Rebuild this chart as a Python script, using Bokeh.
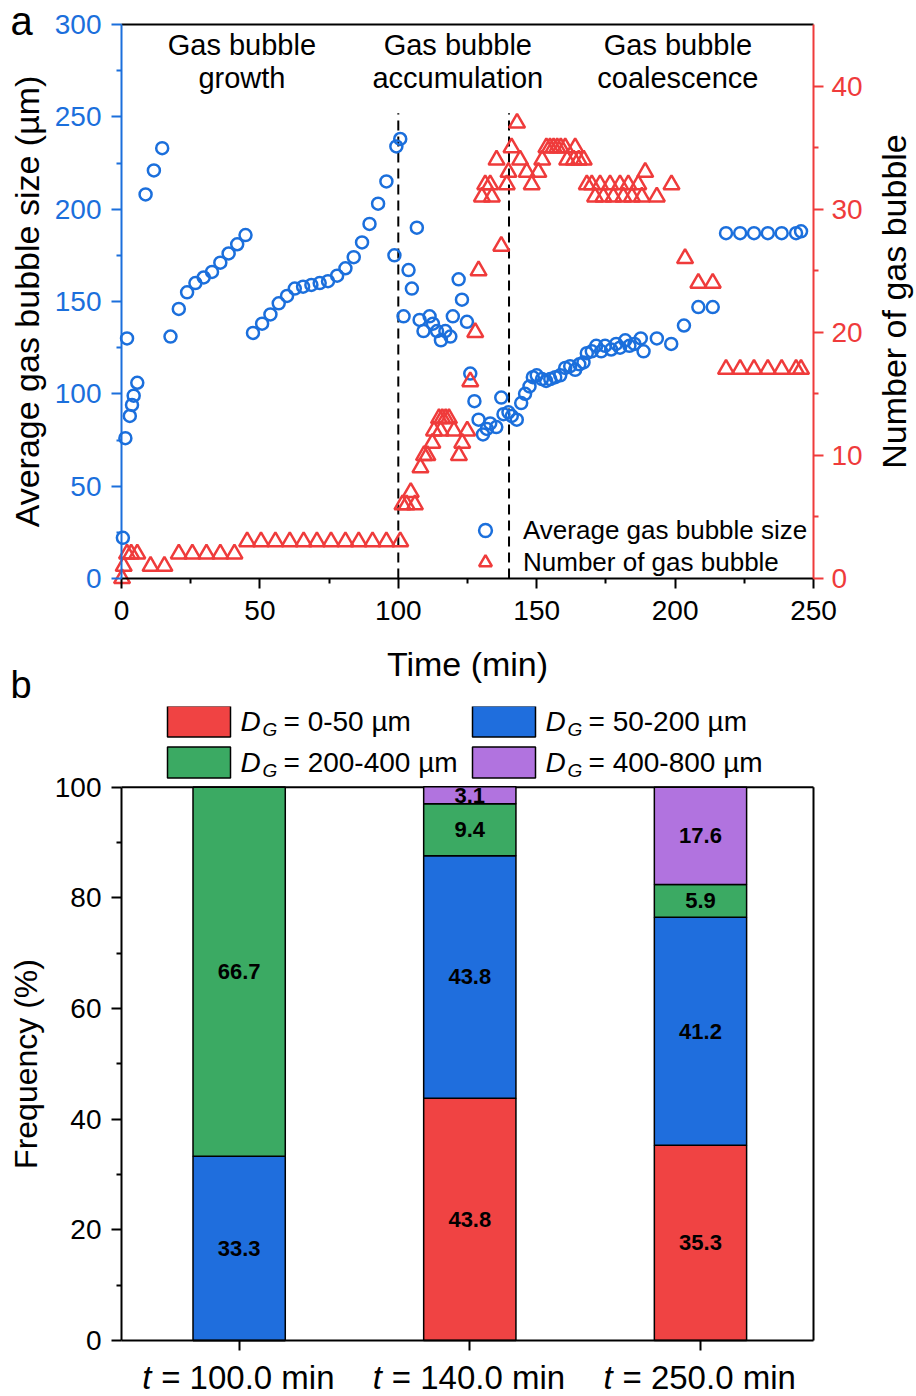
import math
import numpy as np
from bokeh.plotting import figure
from bokeh.models import (Range1d, LinearAxis, FixedTicker, Legend, LegendItem,
                          ColumnDataSource)
from bokeh.layouts import column
from bokeh.embed import file_html
from bokeh.resources import INLINE
from bokeh.core.properties import value

FONT = "Liberation Sans"
BLUE = "#1b6fdc"
RED = "#ef3b3b"

# ---------------- data: panel a ----------------
size_time = [0.5, 1.4, 2.0, 3.0, 3.8, 4.4, 5.7, 8.7, 11.7, 14.7,
             17.7, 20.7, 23.7, 26.7, 29.7, 32.7, 35.7, 38.7, 41.8, 44.8,
             47.5, 50.8, 53.8, 56.8, 59.8, 62.6, 65.6, 68.6, 71.6, 74.6,
             77.9, 80.9, 83.9, 86.9, 89.6, 92.7, 95.7, 98.6, 99.3, 100.7,
             101.9, 103.7, 104.9, 106.7, 107.7, 109.1, 111.3, 112.5, 114.0, 115.4,
             117.0, 118.8, 119.7, 121.8, 123.0, 124.8, 126.0, 127.5, 129.0, 130.6,
             132.0, 133.2, 135.4, 137.2, 138.0, 139.8, 141.0, 142.8, 144.4, 145.8,
             147.4, 148.6, 150.0, 151.9, 153.4, 154.9, 156.7, 158.5, 160.3, 162.1,
             163.9, 165.4, 166.9, 168.1, 169.9, 171.5, 173.3, 174.7, 176.9, 178.7,
             180.1, 182.0, 183.5, 185.3, 187.6, 188.6, 193.4, 198.6, 203.2, 208.4,
             213.6, 218.4, 223.5, 228.5, 233.5, 238.5, 243.7, 245.5]
size_um = [22, 76, 130, 88, 94, 99, 106, 208, 221, 233,
           131, 146, 155, 160, 163, 166, 171, 176, 181, 186,
           133, 138, 143, 149, 153, 157, 158, 159, 160, 161,
           164, 168, 174, 182, 192, 203, 215, 175, 234, 238,
           142, 167, 157, 190, 140, 134, 142, 138, 134, 129,
           134, 131, 142, 162, 151, 139, 111, 96, 86, 78,
           81, 84, 82, 98, 89, 90, 88, 86, 95, 100,
           104, 109, 110, 108, 107, 108, 109, 110, 114, 115,
           113, 116, 117, 122, 123, 126, 123, 126, 124, 127,
           125, 129, 126, 127, 130, 123, 130, 127, 137, 147,
           147, 187, 187, 187, 187, 187, 187, 188]

count_time = [0.2, 0.8, 2.0, 3.5, 5.7, 10.5, 15.5, 20.7, 25.6, 30.7, 35.7, 40.8,
              45.4, 50.4, 55.6, 60.8, 65.8, 70.6, 75.7, 80.9, 85.7, 90.7, 95.7, 100.7,
              101.5, 103.0, 104.5, 106.0,
              108.0, 109.3, 110.5, 112.3, 112.9, 114.7, 115.3, 115.9, 117.1, 118.3,
              120.1, 121.9, 123.1, 124.9,
              126.0, 127.8, 129.0, 130.2, 131.4, 133.2, 133.8, 135.5, 137.2, 139.2,
              139.8, 140.9, 142.9, 144.0, 146.4, 148.2, 150.6, 152.0, 153.5, 154.8,
              156.1, 157.4, 158.7, 160.3, 161.0, 163.4, 163.9, 165.2, 167.0, 168.1,
              169.9, 171.1, 172.9, 174.1, 176.5, 177.7, 180.1, 181.3, 183.1, 184.4,
              186.7, 188.0, 189.2, 193.4, 198.7, 203.6, 208.4, 213.6,
              218.4, 223.5, 228.5, 233.5, 238.5, 243.7, 245.5]
count_n = [0, 1, 2, 2, 2, 1, 1, 2, 2, 2, 2, 2,
           3, 3, 3, 3, 3, 3, 3, 3, 3, 3, 3, 3,
           6, 6, 7, 6,
           9, 10, 10, 11, 12, 13, 12, 13, 13, 13,
           12, 10, 11, 12,
           16, 20, 25, 31, 32, 32, 31, 34, 27, 32,
           33, 35, 37, 34, 33, 32, 33, 34, 35, 35,
           35, 35, 35, 35, 34, 34, 35, 34, 34, 32,
           32, 31, 32, 31, 32, 31, 32, 31, 32, 31,
           32, 31, 33, 31, 32, 26, 24, 24,
           17, 17, 17, 17, 17, 17, 17]

phase_bounds = [100, 140]
phase_line1 = ["Gas bubble", "Gas bubble", "Gas bubble"]
phase_line2 = ["growth", "accumulation", "coalescence"]
phase_center_t = [43.5, 121.5, 201.0]

# ---------------- data: panel b ----------------
times_b = ["100.0", "140.0", "250.0"]
freq_0_50 = [0.0, 43.8, 35.3]
freq_50_200 = [33.3, 43.8, 41.2]
freq_200_400 = [66.7, 9.4, 5.9]
freq_400_800 = [0.0, 3.1, 17.6]
range_labels = ["0-50", "50-200", "200-400", "400-800"]
bar_colors = ["#f04343", "#1f6edd", "#3baa63", "#b173df"]

W = 916
H1 = 706      # page rows 0 .. 706
H2 = 690      # page rows 706 .. 1396


def style_axis(ax, color, ticks, minor, label_size="34px"):
    ax.ticker = FixedTicker(ticks=ticks, minor_ticks=minor)
    ax.axis_line_color = color
    ax.axis_line_width = 2
    ax.major_tick_line_color = color
    ax.major_tick_line_width = 2
    ax.minor_tick_line_color = color
    ax.minor_tick_line_width = 2
    ax.major_tick_out = 10
    ax.major_tick_in = 0
    ax.minor_tick_out = 5
    ax.minor_tick_in = 0
    ax.major_label_text_color = color
    ax.major_label_text_font = FONT
    ax.major_label_text_font_size = "28px"
    ax.major_label_standoff = 10
    ax.axis_label_text_font = FONT
    ax.axis_label_text_font_size = label_size
    ax.axis_label_text_font_style = "normal"
    ax.axis_label_text_color = "black"


# ================= panel a =================
def ax1(px):            # page x -> time
    return (px - 121) * 250 / 692


def ay1(py):            # page y -> left-axis value
    return (578 - py) * 300 / 554


RSCALE = 45 / 300
p1 = figure(width=W, height=H1, x_range=Range1d(ax1(0), ax1(W)),
            y_range=Range1d(ay1(H1), ay1(0)),
            output_backend="svg", toolbar_location=None,
            min_border=0, min_border_left=0, min_border_right=0,
            min_border_top=0, min_border_bottom=0)
p1.outline_line_color = None
p1.grid.visible = False
p1.extra_y_ranges = {"right": Range1d(ay1(H1) * RSCALE, ay1(0) * RSCALE)}

xa = p1.xaxis[0]
style_axis(xa, "black", [0, 50, 100, 150, 200, 250], [25, 75, 125, 175, 225])
xa.fixed_location = 0
xa.bounds = (0, 250)
xa.major_label_standoff = 12
xa.axis_label = "Time (min)"
xa.axis_label_standoff = 22

ya = p1.yaxis[0]
style_axis(ya, BLUE, [0, 50, 100, 150, 200, 250, 300], [25, 75, 125, 175, 225, 275])
ya.fixed_location = 0
ya.bounds = (0, 300)
ya.axis_label = "Average gas bubble size (µm)"
ya.axis_label_standoff = 6

ax_r = LinearAxis(y_range_name="right")
style_axis(ax_r, RED, [0, 10, 20, 30, 40], [5, 15, 25, 35])
ax_r.fixed_location = 250
ax_r.bounds = (0, 45)
ax_r.major_label_standoff = 8
p1.add_layout(ax_r, "right")

# frame top line and dashed phase boundaries
p1.segment(x0=[0], y0=[300], x1=[250], y1=[300], line_color="black", line_width=2)
p1.segment(x0=phase_bounds, y0=0, x1=phase_bounds, y1=252, line_color="black",
           line_width=2, line_dash="10 6")

r_c = p1.scatter(size_time, size_um, marker="circle", size=12, line_color=BLUE,
                 line_width=2.5, fill_color=None)
r_t = p1.scatter(count_time, count_n, marker="triangle", size=16, line_color=RED,
                 line_width=2.5, fill_color=None, y_range_name="right")

p1.text(x=phase_center_t, y=ay1(44), text=phase_line1, text_align="center",
        text_baseline="alphabetic", text_font=value(FONT), text_font_size="29px",
        text_color="black")
p1.text(x=phase_center_t, y=ay1(77), text=phase_line2, text_align="center",
        text_baseline="alphabetic", text_font=value(FONT), text_font_size="29px",
        text_color="black")

# right axis title (reads bottom to top)
p1.text(x=[ax1(893)], y=[ay1(301)], text=["Number of gas bubble"], angle=math.pi / 2,
        text_align="center", text_baseline="middle", text_font=value(FONT),
        text_font_size="34px", text_color="black")

leg = Legend(items=[LegendItem(label="Average gas bubble size", renderers=[r_c]),
                    LegendItem(label="Number of gas bubble", renderers=[r_t])],
             location=(469, H1 - 578), background_fill_alpha=0,
             border_line_color=None, padding=0, margin=0, spacing=0,
             glyph_width=32, glyph_height=32, label_height=32, label_standoff=22,
             label_text_font=FONT, label_text_font_size="26px",
             label_text_color="black")
p1.add_layout(leg)

# panel letters
p1.text(x=[ax1(10)], y=[ay1(20)], text=["a"], text_align="left",
        text_baseline="middle", text_font=value(FONT), text_font_size="40px",
        text_color="black")
p1.text(x=[ax1(10)], y=[ay1(H1 - 1)], text=["b"], text_align="left",
        text_baseline="bottom", text_font=value(FONT), text_font_size="38px",
        text_color="black")

# ================= panel b =================
XS, XE = 0.49, 3.49
PXU = 692 / (XE - XS)          # px per category unit
PYU = (1340 - 786.7) / 100.0   # px per percent


def bx(px):
    return XS + (px - 121) / PXU


def by(py):
    return (1340 - py) / PYU


TOP2 = H1
p2 = figure(width=W, height=H2, x_range=Range1d(bx(0), bx(W)),
            y_range=Range1d(by(TOP2 + H2), by(TOP2)),
            output_backend="svg", toolbar_location=None,
            min_border=0, min_border_left=0, min_border_right=0,
            min_border_top=0, min_border_bottom=0)
p2.outline_line_color = None
p2.grid.visible = False

xcat = [1, 2, 3]
ya2 = p2.yaxis[0]
style_axis(ya2, "black", [0, 20, 40, 60, 80, 100], [10, 30, 50, 70, 90], "32px")
ya2.fixed_location = XS
ya2.bounds = (0, 100)
ya2.axis_label = "Frequency (%)"
ya2.axis_label_standoff = 8

xa2 = p2.xaxis[0]
style_axis(xa2, "black", xcat, [])
xa2.fixed_location = 0
xa2.bounds = (XS, XE)
xa2.major_label_text_color = None

# frame: top and right edges
p2.segment(x0=[XS, XE], y0=[100, 0], x1=[XE, XE], y1=[100, 100], line_color="black",
           line_width=2)

src = ColumnDataSource(dict(x=xcat, r0=freq_0_50, r1=freq_50_200, r2=freq_200_400,
                            r3=freq_400_800))
p2.vbar_stack(["r0", "r1", "r2", "r3"], x="x", width=0.4, fill_color=bar_colors,
              line_color="black", line_width=1.5, source=src)

arr = np.array([freq_0_50, freq_50_200, freq_200_400, freq_400_800])
cum = np.cumsum(arr, axis=0)
mid = cum - arr / 2
lx, ly, lt = [], [], []
for k in range(arr.shape[0]):
    for i in range(arr.shape[1]):
        if arr[k, i] > 0:
            lx.append(xcat[i])
            ly.append(float(mid[k, i]))
            lt.append(f"{arr[k, i]:.1f}")
p2.text(x=lx, y=ly, text=lt, text_align="center", text_baseline="middle",
        text_font=value(FONT), text_font_style="bold", text_font_size="22px",
        text_color="black")

# category labels with italic t
ylab = by(1377)
p2.text(x=xcat, y=[ylab] * 3, text=["t"] * 3, x_offset=-97, text_align="left",
        text_baseline="middle", text_font=value(FONT), text_font_style="italic",
        text_font_size="33px", text_color="black")
p2.text(x=xcat, y=[ylab] * 3, text=[f"= {tb} min" for tb in times_b], x_offset=-78,
        text_align="left", text_baseline="middle", text_font=value(FONT),
        text_font_size="33px", text_color="black")

# legend of panel b (D_G ranges)
col_px = [167, 472]
row_py = [721, 762]
sw_x, sw_y, dx, dy, gx, gy, tx_, tt = [], [], [], [], [], [], [], []
for k, lab in enumerate(range_labels):
    c, r = k % 2, k // 2
    sw_x.append(bx(col_px[c] + 31.5))
    sw_y.append(by(row_py[r]))
    dx.append(bx(col_px[c] + 73))
    dy.append(by(row_py[r]))
    gx.append(bx(col_px[c] + 95))
    gy.append(by(row_py[r] + 8))
    tx_.append(bx(col_px[c] + 116))
    tt.append(f"= {lab} µm")
p2.rect(x=sw_x, y=sw_y, width=63, height=31, width_units="screen",
        height_units="screen", fill_color=bar_colors, line_color="black", line_width=1.5)
p2.text(x=dx, y=dy, text=["D"] * 4, text_align="left", text_baseline="middle",
        text_font=value(FONT), text_font_style="italic", text_font_size="28px",
        text_color="black")
p2.text(x=gx, y=gy, text=["G"] * 4, text_align="left", text_baseline="middle",
        text_font=value(FONT), text_font_style="italic", text_font_size="19px",
        text_color="black")
p2.text(x=tx_, y=dy, text=tt, text_align="left", text_baseline="middle",
        text_font=value(FONT), text_font_size="28px", text_color="black")

layout = column(p1, p2)
open("out.html", "w").write(file_html(layout, INLINE))
